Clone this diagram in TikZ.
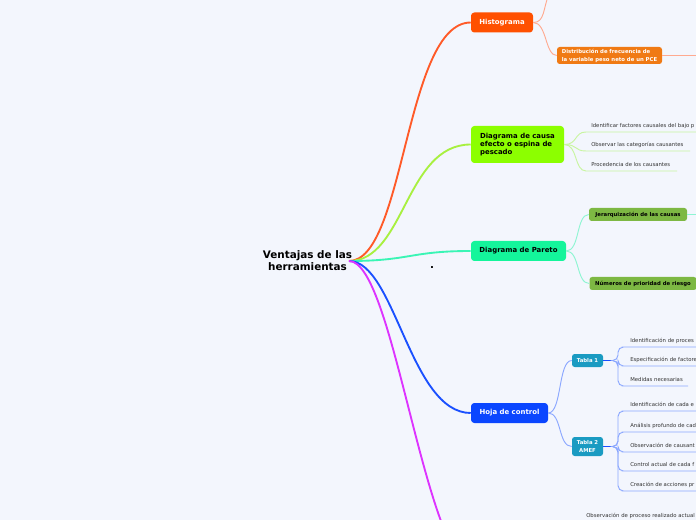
\documentclass[tikz,border=0pt]{standalone}
\usepackage{fontspec}
\setmainfont{DejaVu Sans}
\usepackage{xcolor}
\definecolor{bgcol}{HTML}{F3F6FD}
\definecolor{histcol}{HTML}{FF5000}
\definecolor{distcol}{HTML}{F07A14}
\definecolor{causacol}{HTML}{8CFF00}
\definecolor{paretocol}{HTML}{14F59B}
\definecolor{jerarcol}{HTML}{7DB843}
\definecolor{hojacol}{HTML}{0A46FF}
\definecolor{tablacol}{HTML}{1A9BC2}
\definecolor{histline}{HTML}{FF5A28}
\definecolor{causaline}{HTML}{A8F040}
\definecolor{paretoline}{HTML}{3AF5B5}
\definecolor{hojaline}{HTML}{1A50FF}
\definecolor{magline}{HTML}{DD33FF}
\definecolor{histtwig}{HTML}{FFAA90}
\definecolor{causatwig}{HTML}{C8F5A0}
\definecolor{paretotwig}{HTML}{8EF5D2}
\definecolor{hojatwig}{HTML}{8CA8FF}
\definecolor{leafgray}{HTML}{333333}

\begin{document}
\begin{tikzpicture}[x=0.75pt,y=-0.75pt,
  roottxt/.style={font=\bfseries\fontsize{7.8}{9}\selectfont,align=center,inner sep=0},
  mainbox/.style={rounded corners=2.5pt,font=\bfseries\fontsize{5.2}{6}\selectfont,align=center,inner sep=0,text=white},
  subbox/.style={rounded corners=2pt,font=\bfseries\fontsize{4}{6}\selectfont,inner sep=0},
  leaf/.style={font=\fontsize{4}{5}\selectfont,text=leafgray,inner sep=0,anchor=base west},
  trunk/.style={line width=1.4pt},
  twig/.style={line width=0.7pt}]
\useasboundingbox (0,0) rectangle (696,520);
\fill[bgcol] (0,0) rectangle (696,520);
\clip (0,0) rectangle (696,520);

% root
\node[roottxt] (root) at (307.5,261) {Ventajas de las\\herramientas};
\coordinate (hub) at (349,261);
\node[roottxt] (dot) at (432,268) {.};

% main branches
\node[mainbox,fill=histcol,minimum width=46.5pt,minimum height=15pt] (hist) at (502,22.5) {Histograma};
\node[mainbox,fill=causacol,text=black,align=left,minimum width=69.75pt,minimum height=27.75pt] (causa) at (517.5,144.5) {Diagrama de causa\\efecto o espina de\\pescado};
\node[mainbox,fill=paretocol,text=black,minimum width=71.25pt,minimum height=15pt] (pareto) at (518.5,251) {Diagrama de Pareto};
\node[mainbox,fill=hojacol,minimum width=57.75pt,minimum height=15pt] (hoja) at (509.5,413) {Hoja de control};
\coordinate (obsroot) at (480,575);

\draw[trunk,histline] (hub) .. controls (405,261) and (405,22.5) .. (hist.west);
\draw[trunk,causaline] (hub) .. controls (405,261) and (405,144.5) .. (causa.west);
\draw[trunk,paretoline] (hub) .. controls (410,261) and (410,251) .. (pareto.west);
\draw[trunk,hojaline] (hub) .. controls (395,261) and (410,413) .. (hoja.west);
\draw[trunk,magline] (hub) .. controls (395,261) and (425,575) .. (obsroot);

% Histograma
\node[subbox,fill=distcol,text=white,align=left,minimum width=78.75pt,minimum height=12.75pt] (distr) at (609.5,55.5) {Distribución de frecuencia de\\la variable peso neto de un PCE};
\coordinate (histup) at (549,-6);
\coordinate (distout) at (700,55.5);
\draw[twig,histtwig] (hist.east) .. controls (545,22.5) and (543,8) .. (histup);
\draw[twig,histtwig] (hist.east) .. controls (547,22.5) and (545,55.5) .. (distr.west);
\draw[twig,histtwig] (distr.east) -- (distout);

% Diagrama de causa
\node[leaf] (c1) at (591,127.5) {Identificar factores causales del bajo p};
\node[leaf] (c2) at (591,146.5) {Observar las categorías causantes};
\node[leaf] (c3) at (591,166.5) {Procedencia de los causantes};
\coordinate (c1a) at (586,132); \coordinate (c1b) at (700,132);
\coordinate (c2a) at (586,151); \coordinate (c2b) at (690,151);
\coordinate (c3a) at (586,171); \coordinate (c3b) at (677,171);
\draw[twig,causatwig] (causa.east) .. controls (578,144.5) and (574,132) .. (c1a) -- (c1b);
\draw[twig,causatwig] (causa.east) .. controls (578,144.5) and (574,151) .. (c2a) -- (c2b);
\draw[twig,causatwig] (causa.east) .. controls (578,144.5) and (574,171) .. (c3a) -- (c3b);

% Diagrama de Pareto
\node[subbox,fill=jerarcol,minimum width=73.5pt,minimum height=9.75pt] (jerar) at (638,214.5) {Jerarquización de las causas};
\node[subbox,fill=jerarcol,minimum width=80.25pt,minimum height=9.75pt] (numer) at (643,283.5) {Números de prioridad de riesgo};
\coordinate (jerout) at (700,214.5);
\draw[twig,paretotwig] (pareto.east) .. controls (580,251) and (576,214.5) .. (jerar.west);
\draw[twig,paretotwig] (pareto.east) .. controls (580,251) and (576,283.5) .. (numer.west);
\draw[twig,paretotwig] (jerar.east) -- (jerout);

% Hoja de control
\node[subbox,fill=tablacol,text=white,minimum width=23.25pt,minimum height=9.75pt] (tabla1) at (587.5,360.5) {Tabla 1};
\node[subbox,fill=tablacol,text=white,align=center,minimum width=23.25pt,minimum height=14.25pt] (tabla2) at (587.5,446.5) {Tabla 2\\AMEF};
\draw[twig,hojatwig] (hoja.east) .. controls (562,413) and (558,360.5) .. (tabla1.west);
\draw[twig,hojatwig] (hoja.east) .. controls (562,413) and (558,446.5) .. (tabla2.west);
\coordinate (t1hub) at (613,360.5);
\coordinate (t2hub) at (613,446.5);
\draw[line width=1.1pt,hojaline] (tabla1.east) -- (t1hub);
\draw[line width=1.1pt,hojaline] (tabla2.east) -- (t2hub);

\node[leaf] (t1c1) at (630,342.5) {Identificación de proces};
\node[leaf] (t1c2) at (630,361.5) {Especificación de factore};
\node[leaf] (t1c3) at (630,381.5) {Medidas necesarias};
\coordinate (t1c1a) at (627,347); \coordinate (t1c1b) at (700,347);
\coordinate (t1c2a) at (627,366); \coordinate (t1c2b) at (700,366);
\coordinate (t1c3a) at (627,386); \coordinate (t1c3b) at (688,386);
\draw[twig,hojatwig,rounded corners=4pt] (t1hub) -- (618,360.5) |- (t1c1a) -- (t1c1b);
\draw[twig,hojatwig,rounded corners=4pt] (t1hub) -- (618,360.5) |- (t1c2a) -- (t1c2b);
\draw[twig,hojatwig,rounded corners=4pt] (t1hub) -- (618,360.5) |- (t1c3a) -- (t1c3b);

\node[leaf] (t2c1) at (630,406.5) {Identificación de cada e};
\node[leaf] (t2c2) at (630,427.5) {Análisis profundo de cad};
\node[leaf] (t2c3) at (630,447.5) {Observación de causant};
\node[leaf] (t2c4) at (630,466.5) {Control actual de cada f};
\node[leaf] (t2c5) at (630,486.5) {Creación de acciones pr};
\coordinate (t2c1a) at (627,411); \coordinate (t2c1b) at (700,411);
\coordinate (t2c2a) at (627,432); \coordinate (t2c2b) at (700,432);
\coordinate (t2c3a) at (627,452); \coordinate (t2c3b) at (700,452);
\coordinate (t2c4a) at (627,471); \coordinate (t2c4b) at (700,471);
\coordinate (t2c5a) at (627,491); \coordinate (t2c5b) at (700,491);
\draw[twig,hojatwig,rounded corners=4pt] (t2hub) -- (618,446.5) |- (t2c1a) -- (t2c1b);
\draw[twig,hojatwig,rounded corners=4pt] (t2hub) -- (618,446.5) |- (t2c2a) -- (t2c2b);
\draw[twig,hojatwig,rounded corners=4pt] (t2hub) -- (618,446.5) |- (t2c3a) -- (t2c3b);
\draw[twig,hojatwig,rounded corners=4pt] (t2hub) -- (618,446.5) |- (t2c4a) -- (t2c4b);
\draw[twig,hojatwig,rounded corners=4pt] (t2hub) -- (618,446.5) |- (t2c5a) -- (t2c5b);

% bottom branch
\node[leaf] (obs) at (586,517.5) {Observación de proceso realizado actual};
\end{tikzpicture}
\end{document}
